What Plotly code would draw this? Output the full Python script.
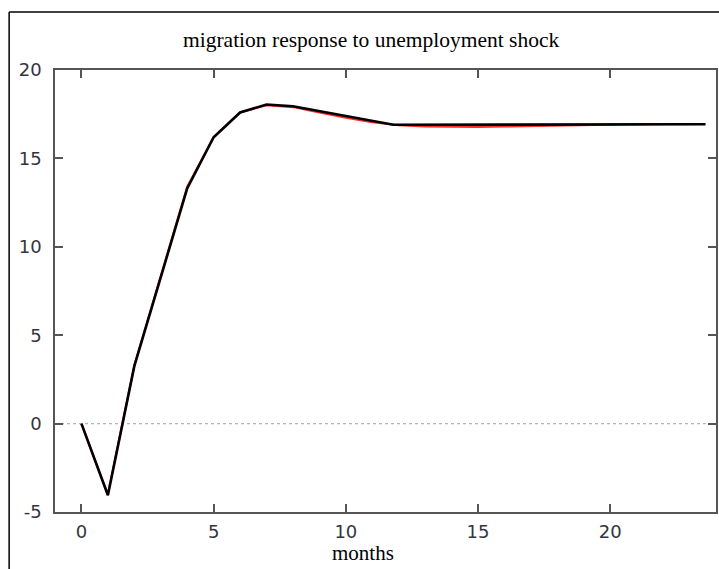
import plotly.graph_objects as go

# black (drawn) response
months_black = [0, 1, 2, 3, 4, 5, 6, 7, 8, 11.8, 17.6, 23.6]
resp_black = [0.0, -4.05, 3.25, 8.3, 13.3, 16.2, 17.6, 18.05, 17.95, 16.9, 16.9, 16.93]

# red (underlying) response
months_red = [0, 1, 2, 3, 4, 5, 6, 7, 8, 9, 10, 11, 12, 13, 14, 15, 16, 17, 18, 19, 20, 21, 22, 23, 23.6]
resp_red = [0.0, -4.0, 3.3, 8.4, 13.4, 16.2, 17.6, 18.0, 17.9, 17.6, 17.3, 17.05, 16.88, 16.8, 16.78, 16.78, 16.8, 16.83, 16.87, 16.9, 16.92, 16.93, 16.94, 16.94, 16.94]

x_ticks = [0, 5, 10, 15, 20]
x_tick_labels = ["0", "5", "10", "15", "20"]
y_ticks = [-5, 0, 5, 10, 15, 20]
y_tick_labels = ["-5", "0", "5", "10", "15", "20"]

W, H = 719, 569
L, R, T, B = 55, 1, 70, 57
pw, ph = W - L - R, H - T - B

def px(x):
    return (x - L) / pw

def py(y):
    return (H - y - B) / ph

fig = go.Figure()
fig.add_trace(go.Scatter(x=months_red, y=resp_red, mode="lines",
                         line=dict(color="#ff2a2a", width=2), showlegend=False))
fig.add_trace(go.Scatter(x=months_black, y=resp_black, mode="lines",
                         line=dict(color="black", width=2.6), showlegend=False))

axis_common = dict(showgrid=False, zeroline=False, showline=True, linecolor="#555555",
                   linewidth=1.5, mirror="ticks", ticks="inside", ticklen=8,
                   tickcolor="#555555", tickwidth=1.5,
                   tickfont=dict(family="DejaVu Sans", size=18, color="#34343f"))

fig.update_xaxes(range=[-1, 24], tickvals=x_ticks, ticktext=x_tick_labels,
                 ticklabelstandoff=3, **axis_common)
fig.update_yaxes(range=[-5, 20], tickvals=y_ticks, ticktext=y_tick_labels,
                 ticklabelstandoff=8, **axis_common)

fig.add_shape(type="line", xref="paper", yref="y", x0=0, x1=1, y0=0, y1=0,
              line=dict(color="#b5b5b5", width=1.3, dash="dot"), layer="below")

# outer border (top and left)
fig.add_shape(type="line", xref="paper", yref="paper", x0=px(9), x1=px(W + 5), y0=py(12), y1=py(12),
              line=dict(color="black", width=1.5))
fig.add_shape(type="line", xref="paper", yref="paper", x0=px(9), x1=px(9), y0=py(12), y1=py(H + 5),
              line=dict(color="black", width=1.5))

fig.add_annotation(text="migration response to unemployment shock", xref="paper", yref="paper",
                   x=px(372), y=py(40), showarrow=False, xanchor="center", yanchor="middle",
                   font=dict(family="Liberation Serif", size=21.5, color="black"))
fig.add_annotation(text="months", xref="paper", yref="paper",
                   x=px(364), y=py(553), showarrow=False, xanchor="center", yanchor="middle",
                   font=dict(family="Liberation Serif", size=21, color="black"))

fig.update_layout(width=W, height=H, margin=dict(l=L, r=R, t=T, b=B),
                  paper_bgcolor="white", plot_bgcolor="white")

fig.write_html("out.html", config={"displayModeBar": False},
               post_script="document.body.style.margin='0';document.body.style.overflow='hidden';")
